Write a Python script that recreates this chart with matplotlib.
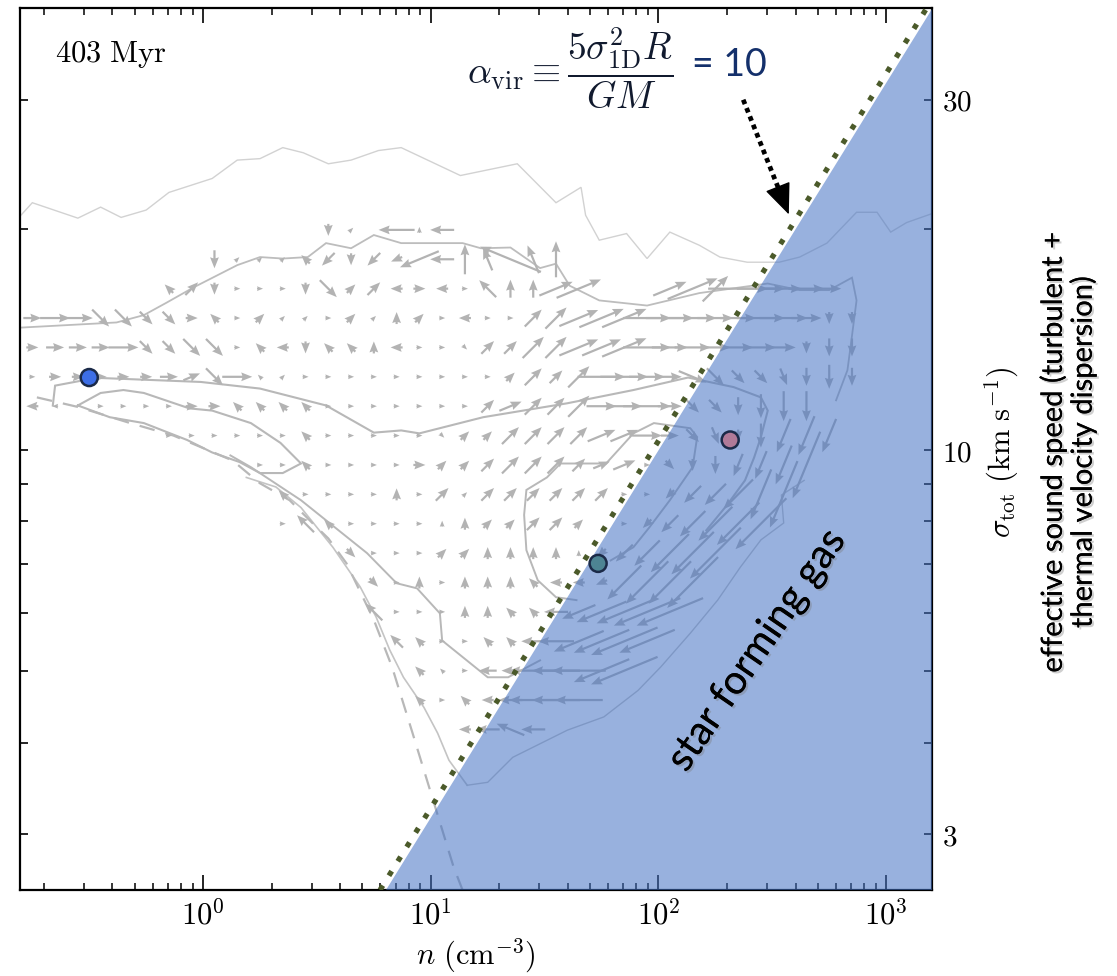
import matplotlib
matplotlib.use("Agg")
import matplotlib.pyplot as plt
import matplotlib.patheffects as pe
from matplotlib.ticker import LogLocator, NullFormatter, NullLocator, FixedLocator, FixedFormatter
import numpy as np

plt.rcParams['mathtext.fontset'] = 'cm'
plt.rcParams['font.family'] = ['DejaVu Serif']

# axis ranges
n_lim = (0.157, 1590.0)
sig_lim = (2.52, 40.0)

# alpha_vir = 10 boundary, sigma = coeff * sqrt(n)
vir_coeff_line = 1.03
vir_coeff_fill = 1.0

x_ticks = [1, 10, 100, 1000]
x_ticklabels = [r'$10^{0}$', r'$10^{1}$', r'$10^{2}$', r'$10^{3}$']
y_ticks = [3, 4, 5, 6, 7, 8, 9, 10, 20, 30]
y_ticklabels = [r'$3$', '', '', '', '', '', '', r'$10$', '', r'$30$']

# velocity field: grid in log10 n / log10 sigma
grid_logn0, grid_dlogn = -0.75, 0.1
grid_logs0, grid_dlogs = 1.1, 0.04
# token "col:DL"  D = direction (hex, 22.5 deg steps, 0 = +n), L = length (base 36, x6 px)
arrow_row_k = [5, 4, 3, 2, 1, 0, -1, -2, -3, -4, -5, -6, -7, -8, -9, -10, -11, -12]
arrow_rows = [
    "13:c2 14:21 16:86 17:41 18:84",
    "8:c3 9:21 10:21 11:21 12:62 13:a3 14:c2 15:a3 16:92 17:97 18:84 19:45 20:54 21:7b 22:55 23:46",
    "6:62 7:23 8:c2 9:01 10:01 11:01 12:c2 13:e4 14:22 15:23 16:82 17:02 18:82 19:01 20:64 21:43 22:43 "
    "23:16 24:18 28:16 29:19 30:26 31:0a 32:08 33:06 34:06 35:04",
    "0:03 1:05 2:05 3:e4 4:e4 5:e3 6:e3 7:02 8:62 9:01 10:22 11:21 12:21 13:01 14:22 15:21 16:42 17:22 "
    "18:01 19:82 20:01 21:01 22:24 23:25 24:17 25:18 26:18 27:08 28:08 29:08 30:06 31:06 32:08 33:08 "
    "34:05 35:c2 36:c2",
    "0:02 1:03 2:03 3:03 4:05 5:e3 6:e3 7:e4 8:e4 9:01 10:62 11:82 12:c2 13:62 14:62 15:42 16:82 17:01 "
    "18:01 19:e1 20:23 21:23 22:25 23:25 24:17 25:17 26:18 27:08 28:06 29:06 30:05 31:05 32:05 33:04 "
    "34:c2 35:c3 36:c3",
    "0:01 1:02 2:02 3:02 4:02 5:02 6:03 7:13 8:e4 9:05 10:61 11:21 12:01 13:01 14:01 15:01 16:01 17:01 "
    "18:01 19:01 20:01 21:22 22:24 23:23 24:25 25:08 26:08 27:06 28:04 29:f5 30:e4 31:e3 32:e3 33:d3 "
    "34:c3 35:c4 36:c3",
    "0:82 1:81 3:01 4:01 5:01 6:01 7:02 8:02 9:62 10:62 11:62 12:62 13:01 14:01 15:01 16:01 17:01 18:01 "
    "19:01 20:23 21:14 22:24 23:24 24:25 25:05 26:06 27:08 28:04 29:e3 30:e3 31:c3 32:c4 33:c5 34:c5",
    "6:01 7:01 8:01 9:01 10:01 11:01 12:62 13:01 14:01 15:01 16:01 17:01 18:e1 19:22 20:22 21:24 22:24 "
    "23:24 24:24 25:15 26:15 27:05 28:03 29:e3 30:d3 31:c2 32:c4 33:b6 34:b7 35:b6",
    "10:01 11:01 12:62 13:01 14:01 15:01 16:01 17:02 18:22 19:22 20:23 21:24 22:24 23:24 24:23 25:13 "
    "26:14 27:01 28:e2 29:c2 30:c3 31:b4 32:b5 33:b7 34:bc",
    "11:62 12:01 13:01 14:01 15:01 16:42 17:01 18:23 19:21 20:23 21:23 22:23 23:23 24:23 25:23 26:01 "
    "27:01 28:a2 29:a4 30:a5 31:a7 32:b9 33:bc",
    "11:01 12:64 13:62 14:01 15:01 16:01 17:01 18:41 19:42 20:22 21:22 22:23 23:23 24:22 26:01 27:a2 "
    "28:a4 29:a6 30:a8 31:aa 32:ac",
    "14:e2 15:01 16:01 17:01 18:22 19:22 20:42 21:42 22:42 23:42 24:41 25:a2 26:a4 27:a6 28:a9 29:aa 30:ac",
    "15:e2 16:01 17:42 18:01 19:42 20:42 21:42 22:62 23:82 24:82 25:92 26:a8 27:aa 28:aa 29:ac",
    "15:64 16:01 17:01 18:01 19:42 20:42 21:62 22:62 23:84 24:96 25:99 26:9a 27:9c 28:9c",
    "16:63 17:62 18:01 19:01 20:62 21:62 22:84 23:86 24:99 25:9a 26:9c 27:9a",
    "17:62 18:61 19:01 20:83 21:83 22:88 23:88 24:89 25:9a 26:9c",
    "17:62 18:01 19:62 20:82 21:84 22:88 23:88 24:88",
    "19:82 20:84 21:75 22:84",
]

# density contours (log10 n, log10 sigma)
outer_logn = [-0.80, -0.75, -0.55, -0.45, -0.36, -0.25, -0.15, 0.04, 0.15, 0.25, 0.35, 0.44, 0.55, 0.65,
              0.77, 0.87, 1.13, 1.38, 1.55, 1.66, 1.68, 1.74, 1.86, 1.95, 2.05, 2.18, 2.27, 2.39, 2.53,
              2.62, 2.74, 2.87, 2.96, 3.02, 3.09, 3.20]
outer_logs = [1.320, 1.337, 1.316, 1.331, 1.317, 1.327, 1.351, 1.370, 1.395, 1.397, 1.412, 1.405, 1.390,
              1.395, 1.408, 1.412, 1.374, 1.390, 1.337, 1.358, 1.320, 1.286, 1.295, 1.261, 1.297, 1.279,
              1.263, 1.256, 1.256, 1.263, 1.282, 1.324, 1.324, 1.297, 1.310, 1.322]

low_logn = [2.64, 2.54, 2.55, 2.45, 2.36, 2.26, 2.14, 2.01, 1.91, 1.76, 1.60, 1.36, 1.25, 1.16]
low_logs = [0.959, 0.939, 0.901, 0.878, 0.841, 0.796, 0.751, 0.705, 0.673, 0.637, 0.619, 0.582, 0.548, 0.544]

mid_logn = [-0.80, -0.38, -0.26, -0.16, -0.04, 0.15, 0.25, 0.35, 0.46, 0.54, 0.65, 0.75, 0.87, 1.14, 1.22,
            1.35, 1.48, 1.55, 1.61, 1.74, 1.95, 2.18, 2.48, 2.62, 2.75, 2.85, 2.87, 2.85, 2.83, 2.78]
mid_logs = [1.167, 1.174, 1.184, 1.201, 1.222, 1.252, 1.263, 1.261, 1.263, 1.282, 1.275, 1.293, 1.282,
            1.282, 1.275, 1.276, 1.248, 1.254, 1.224, 1.204, 1.197, 1.214, 1.227, 1.218, 1.218, 1.235,
            1.204, 1.156, 1.109, 1.068]

dot_logn = [-0.66, -0.65, -0.53, -0.50, -0.01, 0.25, 0.54, 0.75, 0.87, 0.95, 1.23, 1.60, 1.89, 2.13, 2.33,
            2.45, 2.48, 2.45, 2.42, 2.38, 2.30, 2.21]
dot_logs = [1.061, 1.088, 1.095, 1.099, 1.093, 1.084, 1.061, 1.024, 1.027, 1.023, 1.045, 1.064, 1.082,
            1.099, 1.086, 1.072, 1.054, 1.018, 0.990, 0.959, 0.925, 0.891]

inner_logn = [-0.55, -0.45, -0.35, -0.26, -0.06, 0.04, 0.21, 0.34, 0.43, 0.35, 0.25, 0.16, 0.04, -0.07,
              -0.26, -0.41, -0.55]
inner_logs = [1.061, 1.078, 1.082, 1.078, 1.057, 1.054, 1.037, 1.010, 0.982, 0.969, 0.969, 0.984, 0.997,
              1.014, 1.037, 1.045, 1.061]

ring_logn = [1.79, 1.89, 1.96, 2.05, 2.15, 2.17, 2.14, 1.98, 1.89, 1.77, 1.57, 1.51, 1.42, 1.41, 1.42,
             1.47, 1.55, 1.64]
ring_logs = [0.850, 0.868, 0.895, 0.932, 0.977, 1.018, 1.030, 1.037, 1.023, 0.982, 0.982, 0.963, 0.946,
             0.912, 0.864, 0.823, 0.800, 0.796]

tail_logn = [0.12, 0.21, 0.43, 0.72, 0.85, 0.94, 1.04, 1.05, 1.25, 1.34, 1.48]
tail_logs = [0.993, 0.977, 0.932, 0.860, 0.819, 0.812, 0.778, 0.741, 0.691, 0.691, 0.714]

tail2_logn = [0.19, 0.32, 0.43, 0.57, 0.69, 0.76, 0.82, 0.88, 0.97, 1.03, 1.08, 1.16]
tail2_logs = [0.963, 0.950, 0.922, 0.868, 0.814, 0.773, 0.728, 0.691, 0.650, 0.615, 0.578, 0.544]

dash_logn = [-0.73, -0.55, -0.32, -0.13, 0.13, 0.25, 0.38, 0.48, 0.55, 0.63, 0.75, 0.83, 0.92, 1.01,
             1.10, 1.14]
dash_logs = [1.072, 1.059, 1.037, 1.020, 0.986, 0.955, 0.932, 0.901, 0.880, 0.846, 0.769, 0.705, 0.615,
             0.524, 0.433, 0.401]

# tracer particles
tracer_logn = [-0.50, 1.735, 2.315]
tracer_logs = [1.099, 0.846, 1.014]
tracer_colors = ['#3d6ee6', '#4d8493', '#b07a98']

# pointer from the label to the boundary (axes fraction)
pointer_start = (0.793, 0.896)
pointer_end = (0.843, 0.766)


def parse_field():
    X, Y, U, V = [], [], [], []
    for k, row in zip(arrow_row_k, arrow_rows):
        for tok in row.split():
            col, code = tok.split(':')
            ang = np.deg2rad(int(code[0], 16) * 22.5)
            length = int(code[1], 36) * 6.0
            X.append(10 ** (grid_logn0 + grid_dlogn * int(col)))
            Y.append(10 ** (grid_logs0 + grid_dlogs * k))
            U.append(length * np.cos(ang))
            V.append(length * np.sin(ang))
    return np.array(X), np.array(Y), np.array(U), np.array(V)


fig = plt.figure(figsize=(11.17, 9.76), dpi=100)
ax = fig.add_axes([20 / 1117, 86 / 976, 912 / 1117, 882 / 976])
ax.set_xscale('log')
ax.set_yscale('log')
ax.set_xlim(*n_lim)
ax.set_ylim(*sig_lim)

# velocity field
X, Y, U, V = parse_field()
ax.quiver(X, Y, U, V, angles='uv', scale_units='dots', scale=1, units='dots', width=2.2,
          headwidth=4.0, headlength=5.0, headaxislength=4.5, pivot='middle', color='#b3b3b3',
          zorder=2)

# contours
def draw(lx, ly, **kw):
    ax.plot(10 ** np.array(lx), 10 ** np.array(ly), solid_joinstyle='miter', **kw)

draw(outer_logn, outer_logs, color='#d2d2d2', lw=1.0, zorder=1.5)
draw(low_logn, low_logs, color='#c6c6c6', lw=1.0, zorder=1.5)
draw(mid_logn, mid_logs, color='#bdbdbd', lw=1.3, zorder=1.6)
draw(dot_logn, dot_logs, color='#b8b8b8', lw=1.5, zorder=1.6)
draw(inner_logn, inner_logs, color='#b8b8b8', lw=1.5, zorder=1.6)
draw(ring_logn, ring_logs, color='#b8b8b8', lw=1.4, zorder=1.6)
draw(tail_logn, tail_logs, color='#b8b8b8', lw=1.4, zorder=1.6)
draw(tail2_logn, tail2_logs, color='#c4c4c4', lw=1.2, zorder=1.6)
draw(dash_logn, dash_logs, color='#b8b8b8', lw=1.6, ls=(0, (7, 5)), zorder=1.6)

# star forming region (alpha_vir < 10)
n_lo = (sig_lim[0] / vir_coeff_fill) ** 2
s_top = min(vir_coeff_fill * np.sqrt(n_lim[1]), sig_lim[1])
ax.fill([n_lo, n_lim[1], n_lim[1]], [sig_lim[0], sig_lim[0], s_top],
        color='#4472c4', alpha=0.55, lw=0, zorder=3)

# tracers
ax.scatter(10 ** np.array(tracer_logn), 10 ** np.array(tracer_logs), s=150, c=tracer_colors,
           edgecolors='#1b2a48', linewidths=1.8, zorder=4)

# boundary line
n_line = np.array([(sig_lim[0] / vir_coeff_line) ** 2, (sig_lim[1] / vir_coeff_line) ** 2])
ax.plot(n_line, vir_coeff_line * np.sqrt(n_line), color='#4b5a2a', lw=3.8, ls=(0, (1, 2.2)),
        zorder=5)

# axes styling
for sp in ax.spines.values():
    sp.set_linewidth(1.6)
ax.xaxis.set_major_locator(FixedLocator(x_ticks))
ax.xaxis.set_major_formatter(FixedFormatter(x_ticklabels))
ax.xaxis.set_minor_locator(LogLocator(base=10, subs=np.arange(2, 10), numticks=30))
ax.xaxis.set_minor_formatter(NullFormatter())
ax.yaxis.set_major_locator(FixedLocator(y_ticks))
ax.yaxis.set_major_formatter(FixedFormatter(y_ticklabels))
ax.yaxis.set_minor_locator(NullLocator())
ax.tick_params(axis='x', which='major', direction='in', length=11, width=1.2, top=True,
               labelsize=22, pad=7)
ax.tick_params(axis='x', which='minor', direction='in', length=5, width=1.1, top=True)
ax.tick_params(axis='y', which='major', direction='in', length=6, width=1.2, left=True, right=True,
               labelleft=False, labelright=True, labelsize=21, pad=7)

ax.set_xlabel(r'$n\ (\mathrm{cm}^{-3})$', fontsize=22, labelpad=4)

# annotations
ax.text(0.038, 0.947, r'$\mathrm{403\ Myr}$', transform=ax.transAxes, fontsize=22,
        ha='left', va='center')
ax.text(0.49, 0.931, r'$\alpha_{\rm vir} \equiv \dfrac{5\sigma_{\rm 1D}^{2}R}{GM}$',
        transform=ax.transAxes, fontsize=27, ha='left', va='center', color='#111a2e')
ax.text(0.737, 0.935, '= 10', transform=ax.transAxes, fontsize=27, ha='left', va='center',
        color='#14306b', family=['Lato', 'DejaVu Sans'])

# dotted pointer: shaft + solid head
frac = 0.88
shaft_end = (pointer_start[0] + frac * (pointer_end[0] - pointer_start[0]),
             pointer_start[1] + frac * (pointer_end[1] - pointer_start[1]))
ax.plot([pointer_start[0], shaft_end[0]], [pointer_start[1], shaft_end[1]], transform=ax.transAxes,
        color='black', lw=3.4, ls=(0, (1, 0.9)), zorder=6, clip_on=False)
ax.annotate('', xy=pointer_end, xytext=shaft_end, xycoords='axes fraction',
            arrowprops=dict(arrowstyle='-|>,head_length=0.9,head_width=0.38', color='black',
                            lw=1, mutation_scale=22, shrinkA=0, shrinkB=0), zorder=6)

shadow = [pe.withSimplePatchShadow(offset=(1.5, -1.5), shadow_rgbFace='#777777', alpha=0.35),
          pe.Normal()]
ax.text(0.808, 0.272, 'star forming gas', transform=ax.transAxes, fontsize=29, rotation=55.5,
        rotation_mode='anchor', ha='center', va='center', family=['Lato', 'DejaVu Sans'],
        path_effects=shadow, zorder=7)

fig.text(1002 / 1117, 1 - 452 / 976, r'$\sigma_{\rm tot}\ (\mathrm{km\ s}^{-1})$', fontsize=22,
         rotation=90, ha='center', va='center')
fig.text(1068 / 1117, 1 - 452 / 976, 'effective sound speed (turbulent +\nthermal velocity dispersion)',
         fontsize=21, rotation=90, ha='center', va='center', multialignment='center',
         linespacing=1.1, family=['Lato', 'DejaVu Sans'], path_effects=shadow)

fig.savefig('out.png', dpi=100)
